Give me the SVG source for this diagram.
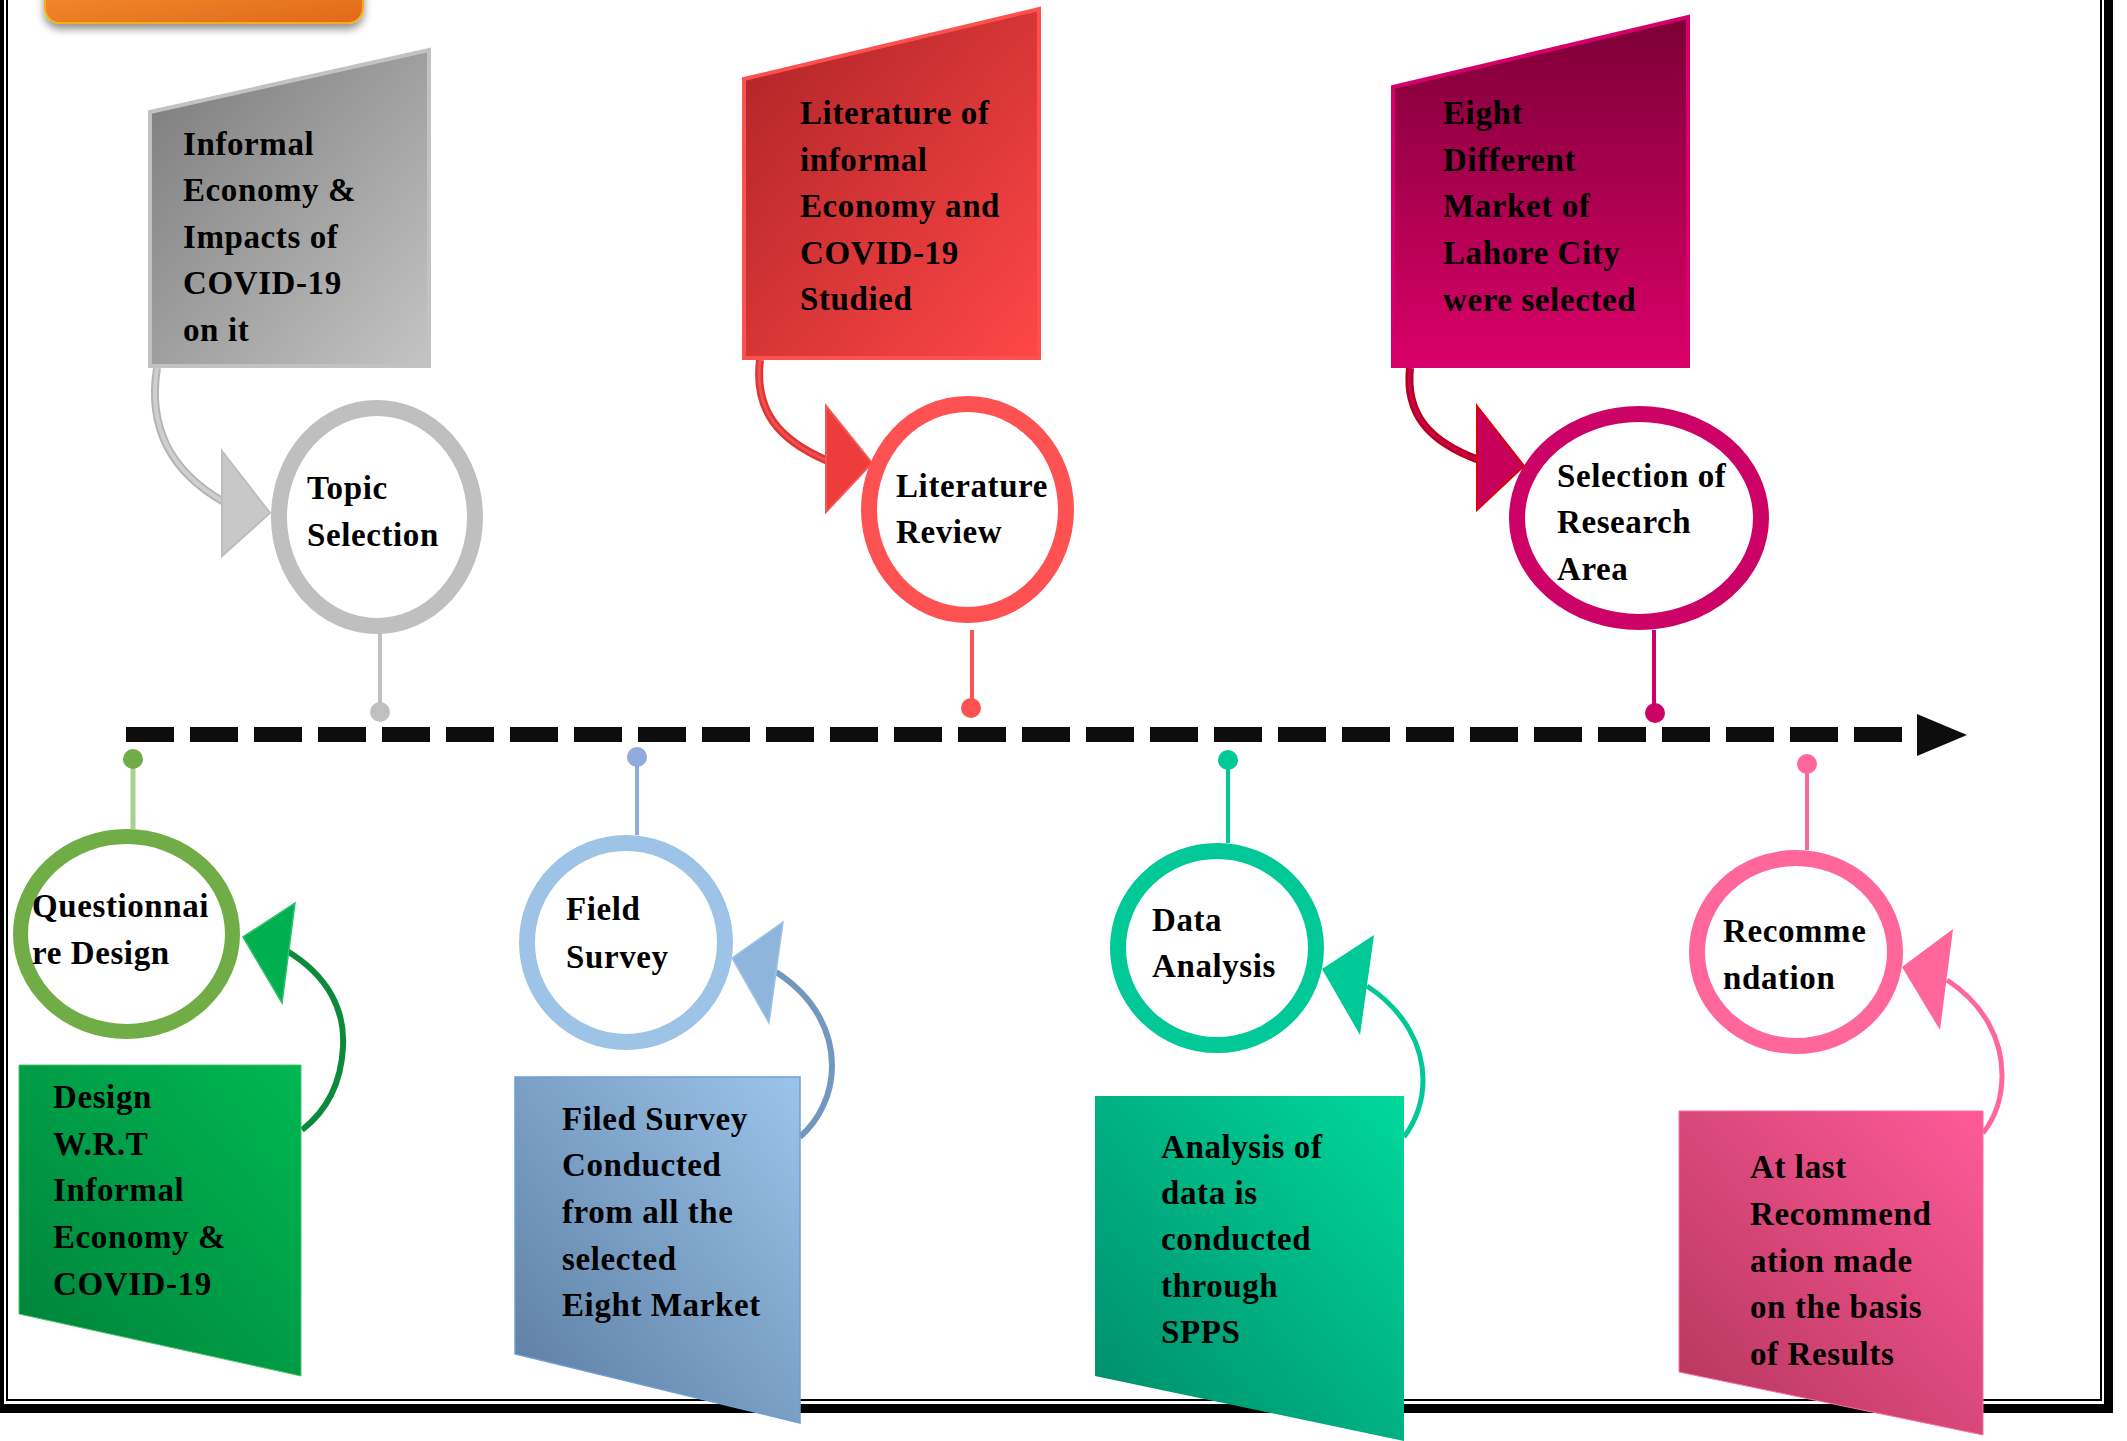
<svg xmlns="http://www.w3.org/2000/svg" width="2127" height="1441" viewBox="0 0 2127 1441">
<style>
.t{font-family:"Liberation Serif","Times New Roman",serif;font-weight:bold;font-size:33px;letter-spacing:0.6px;fill:#000}
.ring{fill:#fff}
</style>
<defs>
<linearGradient id="gOrange" x1="0" y1="0" x2="1" y2="1"><stop offset="0" stop-color="#f7902f"/><stop offset="1" stop-color="#e0691a"/></linearGradient>
<linearGradient id="gGray" x1="0" y1="0" x2="1" y2="1"><stop offset="0" stop-color="#7a7a7a"/><stop offset="1" stop-color="#c4c4c4"/></linearGradient>
<linearGradient id="gRed" x1="0" y1="0" x2="1" y2="1"><stop offset="0" stop-color="#ad2326"/><stop offset="1" stop-color="#ff4747"/></linearGradient>
<linearGradient id="gMag" x1="0" y1="0" x2="0" y2="1"><stop offset="0" stop-color="#7c0036"/><stop offset="1" stop-color="#da0068"/></linearGradient>
<linearGradient id="gGreen" x1="0" y1="1" x2="1" y2="0"><stop offset="0" stop-color="#00803a"/><stop offset="1" stop-color="#00b852"/></linearGradient>
<linearGradient id="gBlue" x1="0" y1="1" x2="1" y2="0"><stop offset="0" stop-color="#5a7ba0"/><stop offset="1" stop-color="#9cc4ea"/></linearGradient>
<linearGradient id="gTeal" x1="0" y1="1" x2="1" y2="0"><stop offset="0" stop-color="#008a68"/><stop offset="1" stop-color="#00d89c"/></linearGradient>
<linearGradient id="gPink" x1="0" y1="1" x2="1" y2="0"><stop offset="0" stop-color="#b3355c"/><stop offset="1" stop-color="#ff5a98"/></linearGradient>
<filter id="sh" x="-10%" y="-30%" width="120%" height="180%"><feGaussianBlur in="SourceAlpha" stdDeviation="4"/><feOffset dy="5"/><feComponentTransfer><feFuncA type="linear" slope="0.45"/></feComponentTransfer><feMerge><feMergeNode/><feMergeNode in="SourceGraphic"/></feMerge></filter>
</defs>

<!-- frame -->
<g id="frame">
<rect x="7" y="-10" width="2094" height="1410" fill="none" stroke="#000" stroke-width="2"/>
<rect x="0" y="0" width="4" height="1413" fill="#000"/>
<rect x="2104" y="0" width="9" height="1413" fill="#000"/>
<rect x="0" y="1404" width="2113" height="9" fill="#000"/>
</g>

<g id="title-tab">
<rect x="45" y="-25" width="318" height="48" rx="15" fill="url(#gOrange)" stroke="#f4b10a" stroke-width="2" filter="url(#sh)"/>
</g>

<!-- connectors -->
<g id="connectors">
<line x1="126" y1="734.5" x2="1903" y2="734.5" stroke="#0d0d0d" stroke-width="15" stroke-dasharray="48 16"/>
<polygon points="1917,714 1967,735 1917,756" fill="#0d0d0d"/>
<!-- stems top -->
<line x1="380" y1="633" x2="380" y2="712" stroke="#c0c0c0" stroke-width="4"/>
<circle cx="380" cy="712" r="10" fill="#c0c0c0"/>
<line x1="972" y1="630" x2="972" y2="708" stroke="#fe5252" stroke-width="4"/>
<circle cx="971" cy="708" r="10" fill="#fe5252"/>
<line x1="1654" y1="630" x2="1654" y2="712" stroke="#cd0266" stroke-width="4"/>
<circle cx="1655" cy="713" r="10" fill="#cd0266"/>
<!-- stems bottom -->
<line x1="133" y1="759" x2="133" y2="829" stroke="#a9d18e" stroke-width="5"/>
<circle cx="133" cy="759" r="10" fill="#70ad47"/>
<line x1="637" y1="757" x2="637" y2="835" stroke="#8faadc" stroke-width="4"/>
<circle cx="637" cy="757" r="10" fill="#8faadc"/>
<line x1="1228" y1="760" x2="1228" y2="843" stroke="#00c896" stroke-width="4"/>
<circle cx="1228" cy="760" r="10" fill="#00c896"/>
<line x1="1807" y1="764" x2="1807" y2="850" stroke="#ff6699" stroke-width="4"/>
<circle cx="1807" cy="764" r="10" fill="#ff6699"/>
<!-- curved arrows top -->
<path d="M157,368 C148,425 168,470 224,502" fill="none" stroke="#b4b4b4" stroke-width="8"/>
<path d="M157,368 C148,425 168,470 224,502" fill="none" stroke="#cfcfcf" stroke-width="4"/>
<polygon points="222,451 270,513 222,556" fill="#c8c8c8" stroke="#bdbdbd" stroke-width="2"/>
<path d="M760,360 C754,410 778,440 828,461" fill="none" stroke="#e03434" stroke-width="8"/>
<path d="M760,360 C754,410 778,440 828,461" fill="none" stroke="#f25050" stroke-width="3"/>
<polygon points="826,406 872,463 826,512" fill="#ee3c3c" stroke="#f25555" stroke-width="2"/>
<path d="M1410,368 C1405,415 1430,442 1479,460" fill="none" stroke="#b80012" stroke-width="8"/>
<path d="M1410,368 C1405,415 1430,442 1479,460" fill="none" stroke="#c8005a" stroke-width="3"/>
<polygon points="1477,406 1524,466 1477,510" fill="#c8005a" stroke="#d8000a" stroke-width="2"/>
<!-- curved arrows bottom -->
<path d="M287,951 C330,977 345,1012 343,1047 C341,1087 325,1112 302,1130" fill="none" stroke="#0a8a3a" stroke-width="6"/>
<polygon points="243,937 295,903 282,1003" fill="#00b050" stroke="#2fc06a" stroke-width="1.5"/>
<path d="M776,972 C815,997 832,1032 832,1066 C832,1096 818,1121 800,1137" fill="none" stroke="#7398c0" stroke-width="6"/>
<polygon points="732,958 783,922 769,1023" fill="#8fb5dc" stroke="#9dc3e6" stroke-width="1.5"/>
<path d="M1367,986 C1405,1011 1423,1046 1423,1080 C1423,1105 1415,1122 1404,1137" fill="none" stroke="#00c896" stroke-width="5"/>
<polygon points="1322,969 1374,935 1360,1035" fill="#00c896"/>
<path d="M1947,980 C1985,1005 2002,1040 2002,1075 C2002,1100 1995,1118 1983,1133" fill="none" stroke="#ff6699" stroke-width="5"/>
<polygon points="1902,967 1953,929 1940,1030" fill="#ff6699"/>
</g>

<!-- top boxes -->
<g id="box-informal">
<polygon points="150,112 429,50 429,366 150,366" fill="url(#gGray)" stroke="#c2c2c2" stroke-width="4"/>
<text class="t" x="183" y="155">Informal</text>
<text class="t" x="183" y="201">Economy &amp;</text>
<text class="t" x="183" y="248">Impacts of</text>
<text class="t" x="183" y="294">COVID-19</text>
<text class="t" x="183" y="341">on it</text>
</g>
<g id="box-literature">
<polygon points="744,79 1039,9 1039,358 744,358" fill="url(#gRed)" stroke="#ff5050" stroke-width="4"/>
<text class="t" x="800" y="124">Literature of</text>
<text class="t" x="800" y="171">informal</text>
<text class="t" x="800" y="217">Economy and</text>
<text class="t" x="800" y="264">COVID-19</text>
<text class="t" x="800" y="310">Studied</text>
</g>
<g id="box-eight">
<polygon points="1393,87 1688,17 1688,366 1393,366" fill="url(#gMag)" stroke="#d6006c" stroke-width="4"/>
<text class="t" x="1443" y="124">Eight</text>
<text class="t" x="1443" y="171">Different</text>
<text class="t" x="1443" y="217">Market of</text>
<text class="t" x="1443" y="264">Lahore City</text>
<text class="t" x="1443" y="311">were selected</text>
</g>

<!-- top circles -->
<g id="node-topic">
<ellipse class="ring" cx="377" cy="517" rx="98" ry="109" stroke="#bfbfbf" stroke-width="16"/>
<text class="t" x="307" y="499">Topic</text>
<text class="t" x="307" y="546">Selection</text>
</g>
<g id="node-literature">
<ellipse class="ring" cx="967.5" cy="509.5" rx="98.5" ry="105.5" stroke="#fe5252" stroke-width="16"/>
<text class="t" x="896" y="497">Literature</text>
<text class="t" x="896" y="543">Review</text>
</g>
<g id="node-selection">
<ellipse class="ring" cx="1639" cy="518" rx="122" ry="104" stroke="#cd0266" stroke-width="16"/>
<text class="t" x="1557" y="487">Selection of</text>
<text class="t" x="1557" y="533">Research</text>
<text class="t" x="1557" y="580">Area</text>
</g>

<!-- bottom circles -->
<g id="node-questionnaire">
<ellipse class="ring" cx="126.5" cy="934" rx="106" ry="97.5" stroke="#70ad47" stroke-width="15"/>
<text class="t" x="32" y="917">Questionnai</text>
<text class="t" x="32" y="964">re Design</text>
</g>
<g id="node-field">
<ellipse class="ring" cx="626" cy="942.5" rx="99" ry="99.5" stroke="#9dc3e6" stroke-width="16"/>
<text class="t" x="566" y="920">Field</text>
<text class="t" x="566" y="968">Survey</text>
</g>
<g id="node-data">
<ellipse class="ring" cx="1217" cy="948" rx="99" ry="97" stroke="#00c896" stroke-width="16"/>
<text class="t" x="1152" y="931">Data</text>
<text class="t" x="1152" y="977">Analysis</text>
</g>
<g id="node-recommendation">
<ellipse class="ring" cx="1796" cy="952" rx="99" ry="94" stroke="#ff6699" stroke-width="16"/>
<text class="t" x="1723" y="942">Recomme</text>
<text class="t" x="1723" y="989">ndation</text>
</g>

<!-- bottom boxes -->
<g id="box-design">
<polygon points="19,1065 301,1065 301,1376 19,1314" fill="url(#gGreen)" stroke="#4cc46a" stroke-width="1"/>
<text class="t" x="53" y="1108">Design</text>
<text class="t" x="53" y="1155">W.R.T</text>
<text class="t" x="53" y="1201">Informal</text>
<text class="t" x="53" y="1248">Economy &amp;</text>
<text class="t" x="53" y="1295">COVID-19</text>
</g>
<g id="box-filed">
<polygon points="515,1077 800,1077 800,1423 515,1354" fill="url(#gBlue)" stroke="#6f9fd6" stroke-width="1.5"/>
<text class="t" x="562" y="1130">Filed Survey</text>
<text class="t" x="562" y="1176">Conducted</text>
<text class="t" x="562" y="1223">from all the</text>
<text class="t" x="562" y="1270">selected</text>
<text class="t" x="562" y="1316">Eight Market</text>
</g>
<g id="box-analysis">
<polygon points="1095,1096 1404,1096 1404,1441 1095,1376" fill="url(#gTeal)"/>
<text class="t" x="1161" y="1158">Analysis of</text>
<text class="t" x="1161" y="1204">data is</text>
<text class="t" x="1161" y="1250">conducted</text>
<text class="t" x="1161" y="1297">through</text>
<text class="t" x="1161" y="1343">SPPS</text>
</g>
<g id="box-recommend">
<polygon points="1679,1111 1983,1111 1983,1435 1679,1372" fill="url(#gPink)" stroke="#ff6fa0" stroke-width="1"/>
<text class="t" x="1750" y="1178">At last</text>
<text class="t" x="1750" y="1225">Recommend</text>
<text class="t" x="1750" y="1272">ation made</text>
<text class="t" x="1750" y="1318">on the basis</text>
<text class="t" x="1750" y="1365">of Results</text>
</g>
</svg>
